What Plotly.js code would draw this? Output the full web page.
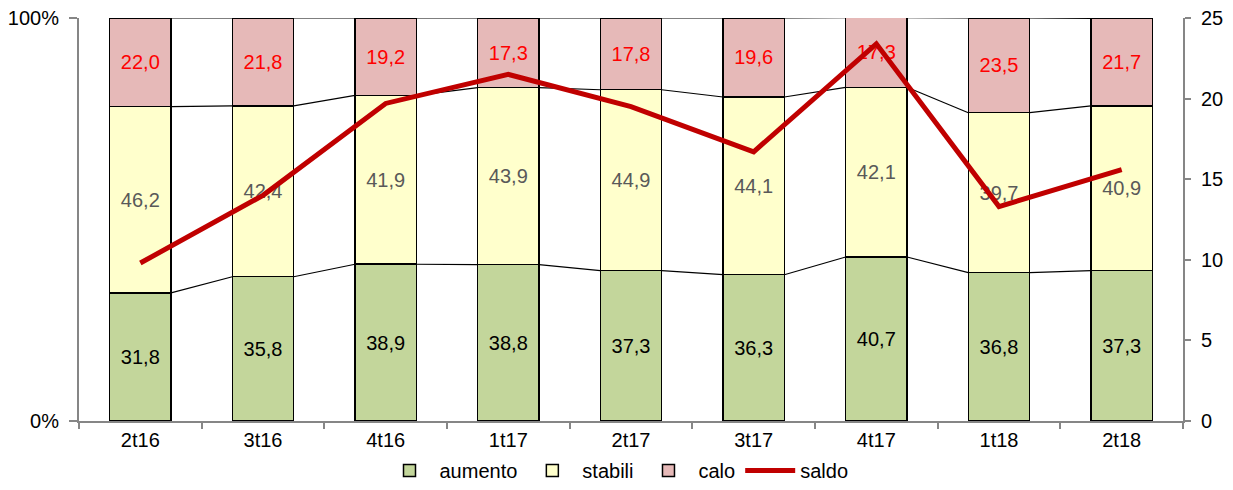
<!DOCTYPE html>
<html>
<head>
<meta charset="utf-8">
<script src="https://cdn.plot.ly/plotly-3.0.1.min.js"></script>
<style>
  body { margin: 0; background: #fff; }
  #chart { width: 1233px; height: 490px; }
</style>
</head>
<body>
<div id="chart"></div>
<script>
const periods = ['2t16', '3t16', '4t16', '1t17', '2t17', '3t17', '4t17', '1t18', '2t18'];
const aumento = [31.8, 35.8, 38.9, 38.8, 37.3, 36.3, 40.7, 36.8, 37.3];
const stabili = [46.2, 42.4, 41.9, 43.9, 44.9, 44.1, 42.1, 39.7, 40.9];
const calo = [22.0, 21.8, 19.2, 17.3, 17.8, 19.6, 17.3, 23.5, 21.7];
const saldo = [9.8, 14.0, 19.7, 21.5, 19.5, 16.7, 23.4, 13.3, 15.6];

const idx = periods.map((p, i) => i);
const barWidth = 0.5;
const fmt = v => v.toFixed(1).replace('.', ',');
const FONT = 'Liberation Sans, Arial';
const FS = 20;

function barTrace(name, vals, fill, txtColor) {
  return {
    type: 'bar', name: name, x: idx, y: vals, width: barWidth,
    marker: { color: fill, line: { color: '#000', width: 1.5 } },
    text: vals.map(fmt), textposition: 'inside', insidetextanchor: 'middle',
    textfont: { family: FONT, size: FS, color: txtColor },
    hoverinfo: 'skip'
  };
}

// Excel style series lines joining segment tops between bars
function seriesLine(tops) {
  const xs = [], ys = [];
  for (let i = 0; i < tops.length - 1; i++) {
    xs.push(i + barWidth / 2, i + 1 - barWidth / 2, null);
    ys.push(tops[i], tops[i + 1], null);
  }
  return { type: 'scatter', mode: 'lines', x: xs, y: ys, showlegend: false,
           line: { color: '#000', width: 1.2 }, hoverinfo: 'skip' };
}

const top1 = aumento;
const top2 = aumento.map((v, i) => v + stabili[i]);
const top3 = top2.map((v, i) => v + calo[i]);

const data = [
  barTrace('aumento', aumento, '#C3D69B', '#000000'),
  barTrace('stabili', stabili, '#FFFFCC', '#595959'),
  barTrace('calo', calo, '#E6B9B8', '#FF0000'),
  seriesLine(top1), seriesLine(top2), seriesLine(top3),
  {
    type: 'scatter', mode: 'lines', name: 'saldo', x: idx, y: saldo, yaxis: 'y2',
    line: { color: '#C00000', width: 5 }
  }
];

const layout = {
  width: 1233, height: 490,
  margin: { l: 79, r: 50, t: 18, b: 69, autoexpand: false },
  barmode: 'stack',
  paper_bgcolor: '#fff', plot_bgcolor: '#fff',
  font: { family: FONT, size: FS, color: '#000' },
  xaxis: {
    range: [-0.5, periods.length - 0.5],
    tickvals: idx, ticktext: periods, ticks: '',
    showgrid: false, zeroline: false,
    showline: true, linecolor: '#868686', linewidth: 2,
    minor: { tick0: -0.5, dtick: 1, ticks: 'outside', ticklen: 6, tickcolor: '#868686', tickwidth: 2, showgrid: false },
    tickfont: { size: FS }
  },
  yaxis: {
    range: [0, 100], tickvals: [0, 100], ticktext: ['0%', '100%'],
    ticks: 'outside', ticklen: 8, tickcolor: '#868686', tickwidth: 2,
    ticklabelstandoff: 6,
    showgrid: false, zeroline: false,
    showline: true, linecolor: '#868686', linewidth: 2,
    tickfont: { size: FS }
  },
  yaxis2: {
    overlaying: 'y', side: 'right', range: [0, 25], dtick: 5,
    ticks: 'outside', ticklen: 6, tickcolor: '#868686', tickwidth: 2,
    ticklabelstandoff: 6,
    showgrid: false, zeroline: false,
    showline: true, linecolor: '#868686', linewidth: 2,
    tickfont: { size: FS }
  },
  legend: {
    orientation: 'h', x: 0.5, xanchor: 'center', xref: 'container',
    y: 0, yanchor: 'bottom', yref: 'container',
    itemwidth: 50,
    font: { size: FS }, traceorder: 'normal'
  },
  showlegend: true
};

Plotly.newPlot('chart', data, layout, { displayModeBar: false, staticPlot: true });
</script>
</body>
</html>
